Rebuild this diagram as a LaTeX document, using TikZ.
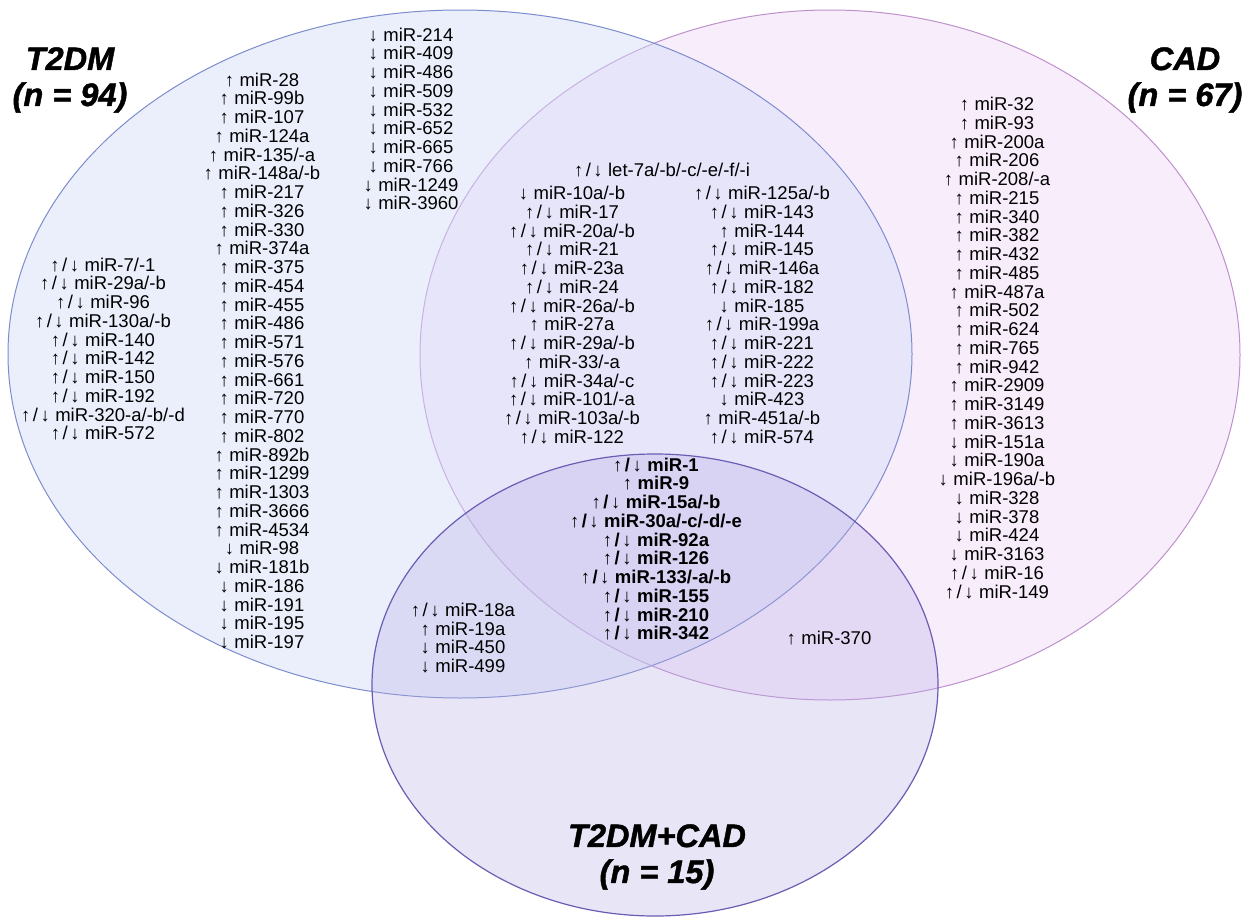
\documentclass[tikz,border=0pt]{standalone}
\usepackage{fontspec}
\setmainfont{Liberation Sans}
\newfontfamily\ttlfont[BoldItalicFeatures={FakeBold=1.4}]{Liberation Sans}
\newcommand\mup{↑\kern5.5pt}
\newcommand\mdn{↓\kern5.5pt}
\newcommand\mud{↑\kern2.5pt/\kern2.5pt↓\kern5.5pt}
\definecolor{bluefill}{RGB}{212,220,250}
\definecolor{bluedraw}{RGB}{125,140,205}
\definecolor{pinkfill}{RGB}{238,208,247}
\definecolor{pinkdraw}{RGB}{190,145,205}
\definecolor{purpfill}{RGB}{182,172,228}
\definecolor{purpdraw}{RGB}{108,92,180}
\tikzset{
  setblue/.style={fill=bluefill,fill opacity=0.45,draw=bluedraw,line width=1pt},
  setpink/.style={fill=pinkfill,fill opacity=0.38,draw=pinkdraw,line width=1pt},
  setpurp/.style={fill=purpfill,fill opacity=0.3,draw=purpdraw,line width=1.2pt},
  lst/.style={align=center,inner sep=0pt,text=black,font=\fontsize{18.5}{18.75}\selectfont},
  lstb/.style={lst,font=\fontsize{18.5}{18.75}\selectfont\bfseries},
  ttl/.style={align=center,inner sep=0pt,text=black,font=\fontsize{32.5}{36}\selectfont\ttlfont\bfseries\itshape}
}
\begin{document}
\begin{tikzpicture}[x=1pt,y=-1pt]
\useasboundingbox (0,0) rectangle (1251,918);
\fill[white] (0,0) rectangle (1251,918);
\path[setpink] (830,355) ellipse [x radius=410, y radius=345];
\path[setblue] (460,354) ellipse [x radius=452, y radius=344];
\path[setpurp] (655,685) ellipse [x radius=283, y radius=231];

\node[ttl] (tT2DM) at (70,80) {T2DM\\(n = 94)};
\node[ttl] (tCAD) at (1185,80) {CAD\\(n = 67)};
\node[ttl] (tBoth) at (657,857) {T2DM+CAD\\(n = 15)};

\node[lst] (bA) at (103,349) {\mud miR-7/-1\\\mud miR-29a/-b\\\mud miR-96\\\mud miR-130a/-b\\\mud miR-140\\\mud miR-142\\\mud miR-150\\\mud miR-192\\\mud miR-320-a/-b/-d\\\mud miR-572};

\node[lst] (bB) at (262,361) {\mup miR-28\\\mup miR-99b\\\mup miR-107\\\mup miR-124a\\\mup miR-135/-a\\\mup miR-148a/-b\\\mup miR-217\\\mup miR-326\\\mup miR-330\\\mup miR-374a\\\mup miR-375\\\mup miR-454\\\mup miR-455\\\mup miR-486\\\mup miR-571\\\mup miR-576\\\mup miR-661\\\mup miR-720\\\mup miR-770\\\mup miR-802\\\mup miR-892b\\\mup miR-1299\\\mup miR-1303\\\mup miR-3666\\\mup miR-4534\\\mdn miR-98\\\mdn miR-181b\\\mdn miR-186\\\mdn miR-191\\\mdn miR-195\\\mdn miR-197};

\node[lst] (bC) at (411,119) {\mdn miR-214\\\mdn miR-409\\\mdn miR-486\\\mdn miR-509\\\mdn miR-532\\\mdn miR-652\\\mdn miR-665\\\mdn miR-766\\\mdn miR-1249\\\mdn miR-3960};

\node[lst] (iLet) at (662,170) {\mud let-7a/-b/-c/-e/-f/-i};

\node[lst] (iL) at (572,315) {\mdn miR-10a/-b\\\mud miR-17\\\mud miR-20a/-b\\\mud miR-21\\\mud miR-23a\\\mud miR-24\\\mud miR-26a/-b\\\mup miR-27a\\\mud miR-29a/-b\\\mup miR-33/-a\\\mud miR-34a/-c\\\mud miR-101/-a\\\mud miR-103a/-b\\\mud miR-122};

\node[lst] (iR) at (762,315) {\mud miR-125a/-b\\\mud miR-143\\\mup miR-144\\\mud miR-145\\\mud miR-146a\\\mud miR-182\\\mdn miR-185\\\mud miR-199a\\\mud miR-221\\\mud miR-222\\\mud miR-223\\\mdn miR-423\\\mup miR-451a/-b\\\mud miR-574};

\node[lstb] (cAll) at (656,549) {\mud miR-1\\\mup miR-9\\\mud miR-15a/-b\\\mud miR-30a/-c/-d/-e\\\mud miR-92a\\\mud miR-126\\\mud miR-133/-a/-b\\\mud miR-155\\\mud miR-210\\\mud miR-342};

\node[lst] (bp) at (463,638) {\mud miR-18a\\\mup miR-19a\\\mdn miR-450\\\mdn miR-499};

\node[lst] (pp) at (829,638) {\mup miR-370};

\node[lst] (pC) at (997,348) {\mup miR-32\\\mup miR-93\\\mup miR-200a\\\mup miR-206\\\mup miR-208/-a\\\mup miR-215\\\mup miR-340\\\mup miR-382\\\mup miR-432\\\mup miR-485\\\mup miR-487a\\\mup miR-502\\\mup miR-624\\\mup miR-765\\\mup miR-942\\\mup miR-2909\\\mup miR-3149\\\mup miR-3613\\\mdn miR-151a\\\mdn miR-190a\\\mdn miR-196a/-b\\\mdn miR-328\\\mdn miR-378\\\mdn miR-424\\\mdn miR-3163\\\mud miR-16\\\mud miR-149};
\end{tikzpicture}
\end{document}
